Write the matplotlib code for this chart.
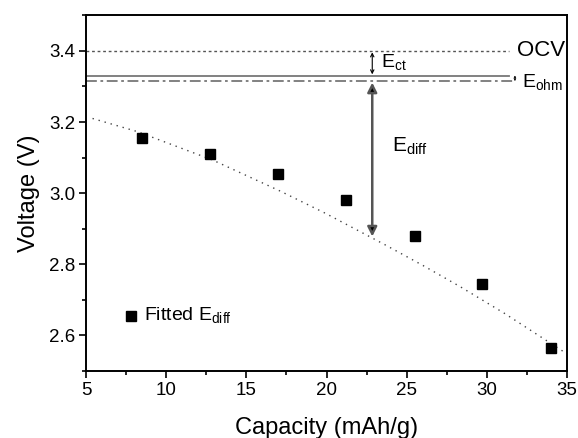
import matplotlib
matplotlib.use("Agg")
import matplotlib.pyplot as plt
from matplotlib.ticker import MultipleLocator

plt.rcParams['font.family'] = ['Liberation Sans', 'DejaVu Sans']

# fitted E_diff points
cap = [8.5, 12.7, 17.0, 21.2, 25.5, 29.7, 34.0]
volt = [3.155, 3.110, 3.053, 2.980, 2.879, 2.744, 2.565]

# dotted fit curve
fit_x = [5.4, 8.2, 12.9, 17.1, 19.9, 23.6, 26.0, 28.3, 31.1, 34.9]
fit_y = [3.210, 3.173, 3.093, 3.006, 2.944, 2.856, 2.797, 2.738, 2.662, 2.551]

ocv = 3.40
e_ct_level = 3.33
e_ohm_level = 3.316
diff_bottom = 2.878

fig = plt.figure(figsize=(5.78, 4.38), dpi=100)
ax = fig.add_axes([0.149, 0.153, 0.832, 0.812])

ax.plot(fit_x, fit_y, linestyle=(0, (1, 3.5)), color='#444444', lw=1.0)
ax.plot(cap, volt, 's', color='black', markersize=7.8, linestyle='none')

ax.plot([5, 31.35], [ocv, ocv], linestyle=(0, (2, 2)), color='#555555', lw=1.0)
ax.plot([5, 31.35], [e_ct_level, e_ct_level], '-', color='#777777', lw=1.3)
ax.plot([5, 31.7], [e_ohm_level, e_ohm_level], linestyle=(0, (6, 2, 1.5, 2)),
        color='#777777', lw=1.3)

# arrows
ax.annotate('', xy=(22.85, e_ct_level + 0.004), xytext=(22.85, ocv - 0.004),
            arrowprops=dict(arrowstyle='<->', color='black', lw=0.8,
                            mutation_scale=6, shrinkA=0, shrinkB=0))
ax.annotate('', xy=(31.75, e_ohm_level - 0.001), xytext=(31.75, e_ct_level + 0.001),
            arrowprops=dict(arrowstyle='<->', color='black', lw=0.6,
                            mutation_scale=3, shrinkA=0, shrinkB=0))
ax.annotate('', xy=(22.85, diff_bottom), xytext=(22.85, e_ohm_level - 0.005),
            arrowprops=dict(arrowstyle='<|-|>', color='#555555', lw=1.8,
                            mutation_scale=14, shrinkA=0, shrinkB=0,
                            fc='black', ec='#555555'))

ax.text(31.85, ocv, 'OCV', fontsize=16, va='center', ha='left')
ax.text(23.4, 3.366, r'E$_{\mathregular{ct}}$', fontsize=14, va='center', ha='left')
ax.text(32.2, 3.310, r'E$_{\mathregular{ohm}}$', fontsize=14, va='center', ha='left')
ax.text(24.1, 3.132, r'E$_{\mathregular{diff}}$', fontsize=15, va='center', ha='left')

# legend-like label
ax.plot([7.8], [2.655], 's', color='black', markersize=7.8)
ax.text(8.6, 2.655, r'Fitted E$_{\mathregular{diff}}$', fontsize=14, va='center', ha='left')

ax.set_xlim(5, 35)
ax.set_ylim(2.5, 3.5)
ax.xaxis.set_major_locator(MultipleLocator(5))
ax.xaxis.set_minor_locator(MultipleLocator(2.5))
ax.yaxis.set_major_locator(MultipleLocator(0.2))
ax.yaxis.set_minor_locator(MultipleLocator(0.1))
ax.set_yticks([2.6, 2.8, 3.0, 3.2, 3.4])
ax.yaxis.set_major_formatter(plt.FormatStrFormatter('%.1f'))

ax.tick_params(which='both', direction='out', top=False, right=False, width=1.2)
ax.tick_params(which='major', length=5, labelsize=13.5, pad=3)
ax.tick_params(which='minor', length=3)
for s in ax.spines.values():
    s.set_linewidth(1.4)

ax.set_xlabel('Capacity (mAh/g)', fontsize=17, labelpad=13)
ax.set_ylabel('Voltage (V)', fontsize=17, labelpad=6)

fig.savefig('out.png', dpi=100)
